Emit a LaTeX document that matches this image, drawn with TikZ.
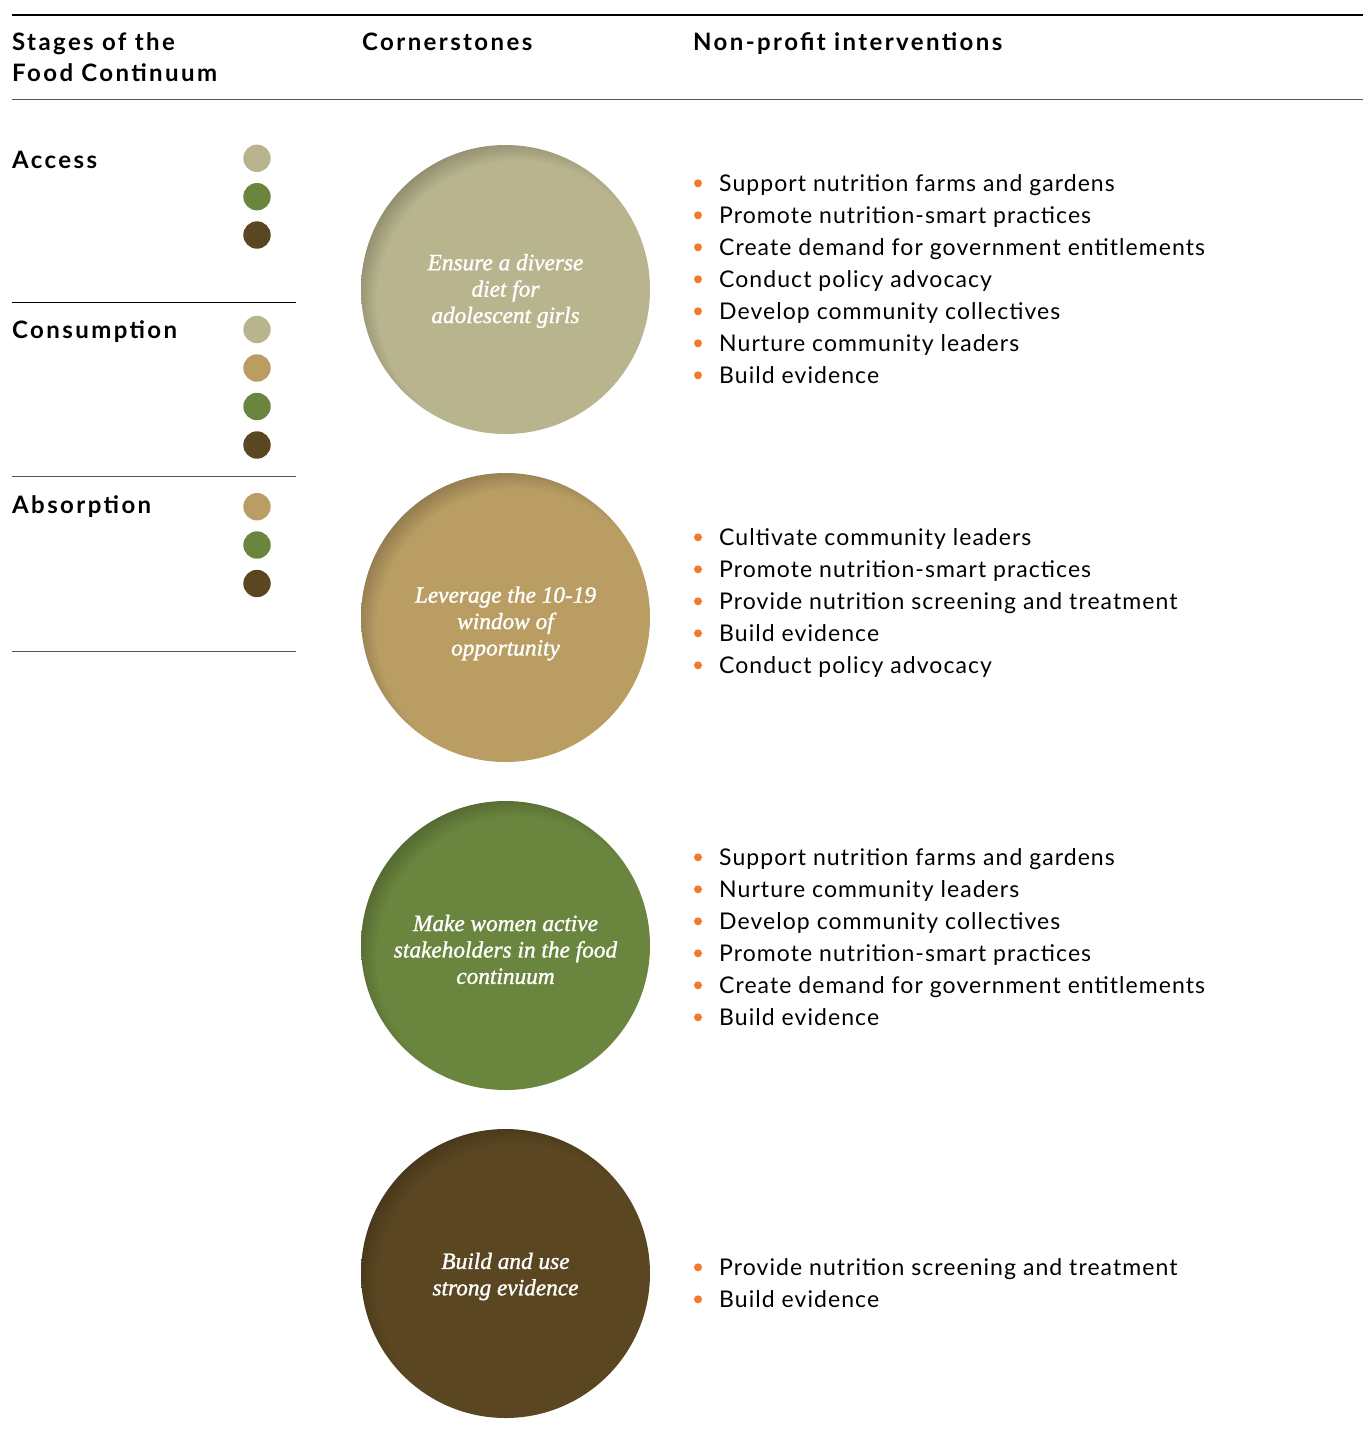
\documentclass[tikz,border=0pt]{standalone}
\usepackage{fontspec}
\setmainfont{Lato}
\newfontfamily\headfont[LetterSpace=10]{Lato}
\newfontfamily\itemfont[LetterSpace=4.6]{Lato}
\newfontfamily\stonefont[ItalicFeatures={FakeBold=1.3}]{Liberation Serif}
\usetikzlibrary{positioning}

\definecolor{sage}{HTML}{B8B48E}
\definecolor{foodtan}{HTML}{B99D63}
\definecolor{leaf}{HTML}{6A853E}
\definecolor{soil}{HTML}{5B4622}
\definecolor{bulletorange}{HTML}{F27A2C}
\definecolor{rulegray}{HTML}{555555}

% inner shadow on the upper left of each cornerstone
\newcommand{\stoneshading}[2]{%
  \pgfdeclareradialshading{#1}{\pgfpoint{4bp}{-4bp}}{%
    color(0bp)=(#2); color(24.3bp)=(#2); color(27.5bp)=(#2!80!black);
    color(30.7bp)=(#2!35!black); color(50bp)=(#2!35!black)}}
\stoneshading{sageshade}{sage}
\stoneshading{tanshade}{foodtan}
\stoneshading{leafshade}{leaf}
\stoneshading{soilshade}{soil}

\begin{document}
\begin{tikzpicture}[x=1pt, y=-1pt,
    heading/.style={anchor=base west, inner sep=0pt, align=left,
      font=\headfont\fontsize{24}{31.7}\selectfont\bfseries},
    swatch/.style={circle, inner sep=0pt, minimum size=27.4pt},
    bulletdot/.style={circle, fill=bulletorange, inner sep=0pt, minimum size=8pt},
    item/.style={anchor=base west, inner sep=0pt, font=\itemfont\fontsize{23}{32}\selectfont},
    stone/.style={circle, inner sep=0pt, minimum size=289pt, shade},
    stonetext/.style={text=white, align=center, inner sep=0pt,
      font=\stonefont\itshape\fontsize{23.3}{26.4}\selectfont}
  ]
  \useasboundingbox (0,0) rectangle (1363,1449);

  % column heads
  \draw[line width=2.6pt] (12,15) -- (1363,15);
  \node[heading] (stages) at (12,81.7) {Stages of the\\Food Continuum};
  \node[heading] (cornerhead) at (362,50) {Cornerstones};
  \node[heading] (nphead) at (693,50) {Non-profit interventions};
  \draw[rulegray, line width=1.1pt] (12,99.5) -- (1363,99.5);

  % stages of the food continuum
  \node[heading] (access) at (12,168.3) {Access};
  \node[swatch, fill=sage] (acc1) at (257,158.3) {};
  \node[swatch, fill=leaf] (acc2) at (257,196.7) {};
  \node[swatch, fill=soil] (acc3) at (257,235) {};
  \draw[line width=0.9pt] (12,302.3) -- (296,302.3);

  \node[heading] (consumption) at (12,338.5) {Consumption};
  \node[swatch, fill=sage] (con1) at (257,329.5) {};
  \node[swatch, fill=foodtan] (con2) at (257,368) {};
  \node[swatch, fill=leaf] (con3) at (257,406.5) {};
  \node[swatch, fill=soil] (con4) at (257,445) {};
  \draw[rulegray, line width=0.9pt] (12,476.7) -- (296,476.7);

  \node[heading] (absorption) at (12,513.3) {Absorption};
  \node[swatch, fill=foodtan] (abs1) at (257,506.7) {};
  \node[swatch, fill=leaf] (abs2) at (257,545) {};
  \node[swatch, fill=soil] (abs3) at (257,583.5) {};
  \draw[rulegray, line width=0.9pt] (12,651.7) -- (296,651.7);

  % cornerstones
  \node[stone, shading=sageshade] (diet) at (505.5,289.5) {};
  \node[stonetext] (diettext) at ([yshift=-1.5pt]diet.center) {Ensure a diverse\\diet for\\adolescent girls};
  \node[stone, shading=tanshade] (window) at (505.5,617.5) {};
  \node[stonetext] (windowtext) at ([yshift=-6pt]window.center) {Leverage the 10-19\\window of\\opportunity};
  \node[stone, shading=leafshade] (women) at (505.5,945.5) {};
  \node[stonetext] (womentext) at ([yshift=-4pt]women.center) {Make women active\\stakeholders in the food\\continuum};
  \node[stone, shading=soilshade] (evidence) at (505.5,1273.5) {};
  \node[stonetext] (evidencetext) at ([yshift=-3pt]evidence.center) {Build and use\\strong evidence};

  % non-profit interventions
  \foreach \txt [count=\i] in {Support nutrition farms and gardens, Promote nutrition-smart practices,
      Create demand for government entitlements, Conduct policy advocacy,
      Develop community collectives, Nurture community leaders, Build evidence} {
    \node[bulletdot] (dietb\i) at (698,151.3+32*\i) {};
    \node[item] (dieti\i) at (719,159.8+32*\i) {\txt};
  }
  \foreach \txt [count=\i] in {Cultivate community leaders, Promote nutrition-smart practices,
      Provide nutrition screening and treatment, Build evidence, Conduct policy advocacy} {
    \node[bulletdot] (windowb\i) at (698,505.3+32*\i) {};
    \node[item] (windowi\i) at (719,513.8+32*\i) {\txt};
  }
  \foreach \txt [count=\i] in {Support nutrition farms and gardens, Nurture community leaders,
      Develop community collectives, Promote nutrition-smart practices,
      Create demand for government entitlements, Build evidence} {
    \node[bulletdot] (womenb\i) at (698,825.3+32*\i) {};
    \node[item] (womeni\i) at (719,833.8+32*\i) {\txt};
  }
  \foreach \txt [count=\i] in {Provide nutrition screening and treatment, Build evidence} {
    \node[bulletdot] (evidenceb\i) at (698,1235.3+32*\i) {};
    \node[item] (evidencei\i) at (719,1243.8+32*\i) {\txt};
  }

\end{tikzpicture}
\end{document}
